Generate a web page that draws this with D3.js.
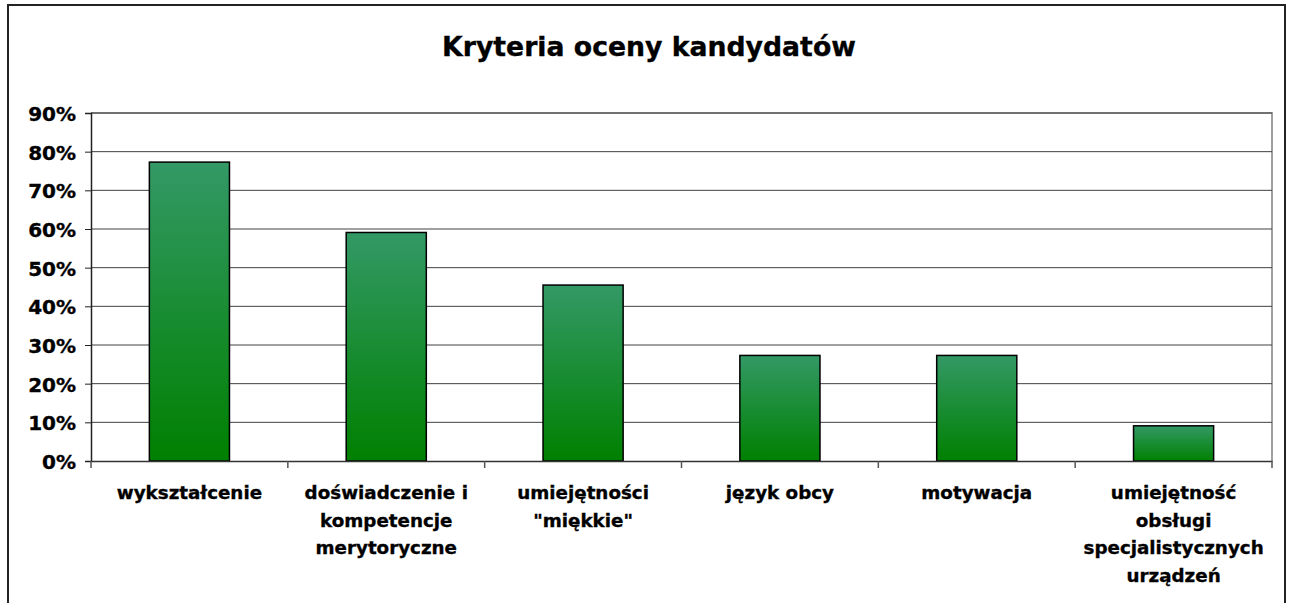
<!DOCTYPE html>
<html>
<head>
<meta charset="utf-8">
<script src="https://cdn.jsdelivr.net/npm/d3@7"></script>
<style>
  html, body { margin: 0; padding: 0; background: #fff; }
  svg { display: block; }
  text { font-family: "DejaVu Sans", Verdana, sans-serif; font-weight: bold; fill: #000; stroke: #000; stroke-width: 0.35px; }
</style>
</head>
<body>
<svg id="chart" width="1289" height="603"></svg>
<script>
const title = "Kryteria oceny kandydatów";
const categories = [
  "wykształcenie",
  "doświadczenie i\nkompetencje\nmerytoryczne",
  "umiejętności\n\"miękkie\"",
  "język obcy",
  "motywacja",
  "umiejętność\nobsługi\nspecjalistycznych\nurządzeń"
];
const values = [0.773, 0.591, 0.455, 0.273, 0.273, 0.091];
const yTicks = [0, 0.1, 0.2, 0.3, 0.4, 0.5, 0.6, 0.7, 0.8, 0.9];

const svg = d3.select("#chart");
const plot = { left: 91, right: 1272, top: 113, bottom: 461 };

// gradient
const defs = svg.append("defs");
const grad = defs.append("linearGradient").attr("id", "barGrad")
  .attr("x1", 0).attr("y1", 0).attr("x2", 0).attr("y2", 1);
grad.append("stop").attr("offset", "0%").attr("stop-color", "#339966");
grad.append("stop").attr("offset", "100%").attr("stop-color", "#008000");

// outer border
svg.append("rect").attr("x", 8).attr("y", 5).attr("width", 1277).attr("height", 620)
  .attr("fill", "#fff").attr("stroke", "#222").attr("stroke-width", 2);

// title
svg.append("text").attr("x", 649).attr("y", 56).attr("text-anchor", "middle")
  .style("font-size", "26.7px").text(title);

const x = d3.scaleBand().domain(categories).range([plot.left, plot.right])
  .paddingInner(0.593).paddingOuter(0.2965);
const xStep = d3.scaleBand().domain(categories).range([plot.left, plot.right]);
const y = d3.scaleLinear().domain([0, 0.9]).range([plot.bottom, plot.top]);

// plot frame (top & right grey)
svg.append("path")
  .attr("d", `M${plot.left},${plot.top}H${plot.right}V${plot.bottom}`)
  .attr("fill", "none").attr("stroke", "#a0a0a0").attr("stroke-width", 2);

// gridlines
svg.append("g").selectAll("line").data(yTicks.slice(1)).join("line")
  .attr("x1", plot.left).attr("x2", plot.right)
  .attr("y1", d => y(d)).attr("y2", d => y(d))
  .attr("stroke", "#404040").attr("stroke-width", 1);

// y axis
const yAxis = d3.axisLeft(y).tickValues(yTicks).tickFormat(d3.format(".0%")).tickSize(6).tickPadding(9);
const gy = svg.append("g").attr("transform", `translate(${plot.left},0)`).call(yAxis);
gy.select(".domain").attr("stroke", "#222").attr("stroke-width", 1.5);
gy.selectAll(".tick line").attr("stroke", "#222");
gy.selectAll(".tick text").style("font-size", "20px").style("font-family", "DejaVu Sans")
  .style("font-weight", "bold").attr("fill", "#000").attr("dy", "0.38em");

// bars
svg.append("g").selectAll("rect").data(values).join("rect")
  .attr("x", (d, i) => x(categories[i]))
  .attr("y", d => y(d))
  .attr("width", x.bandwidth())
  .attr("height", d => y(0) - y(d))
  .attr("fill", "url(#barGrad)")
  .attr("stroke", "#000").attr("stroke-width", 1.5);

// x axis
const xAxis = d3.axisBottom(xStep).tickSize(0).tickFormat("");
const gx = svg.append("g").attr("transform", `translate(0,${plot.bottom})`).call(xAxis);
gx.select(".domain").attr("stroke", "#333").attr("stroke-width", 1.5);
// category separator ticks
const bounds = categories.map(c => xStep(c)).concat([plot.right]);
svg.append("g").selectAll("line").data(bounds).join("line")
  .attr("x1", d => d).attr("x2", d => d)
  .attr("y1", plot.bottom).attr("y2", plot.bottom + 7)
  .attr("stroke", "#555").attr("stroke-width", 1.5);

// category labels
const lbl = svg.append("g").selectAll("text").data(categories).join("text")
  .attr("text-anchor", "middle")
  .style("font-size", "18.3px")
  .attr("transform", c => `translate(${xStep(c) + xStep.bandwidth() / 2},${plot.bottom + 38})`);
lbl.selectAll("tspan").data(c => c.split("\n")).join("tspan")
  .attr("x", 0).attr("dy", (d, i) => i === 0 ? 0 : 27.5).text(d => d);
</script>
</body>
</html>
